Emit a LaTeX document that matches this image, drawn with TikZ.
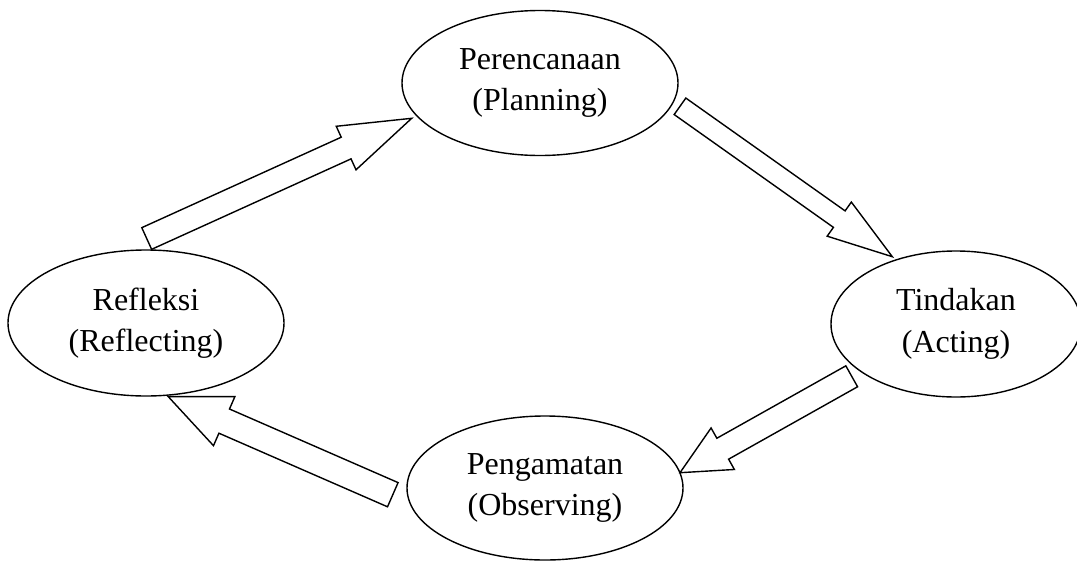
\documentclass[tikz,border=0pt]{standalone}
\usepackage{fontspec}
\setmainfont{Liberation Serif}
\usetikzlibrary{shapes.geometric,calc}
\tikzset{
  bw/.store in=\bw, hw/.store in=\hw, hl/.store in=\hl,
  bw=12pt, hw=24pt, hl=60pt,
  stage/.style={draw, ellipse, line width=1.4pt, inner sep=0pt,
    minimum width=276pt, minimum height=145pt, align=center,
    font=\fontsize{32}{41.5}\selectfont},
  blockarrow/.style={draw, line width=1.4pt, fill=white, miter limit=20,
    to path={
      ($(\tikztostart)!\bw!90:(\tikztotarget)$)
      -- ($(\tikztotarget)!\hl!(\tikztostart)!\bw!90:(\tikztotarget)$)
      -- ($(\tikztotarget)!\hl!(\tikztostart)!\hw!90:(\tikztotarget)$)
      -- (\tikztotarget)
      -- ($(\tikztotarget)!\hl!(\tikztostart)!\hw!-90:(\tikztotarget)$)
      -- ($(\tikztotarget)!\hl!(\tikztostart)!\bw!-90:(\tikztotarget)$)
      -- ($(\tikztostart)!\bw!-90:(\tikztotarget)$)
      -- cycle}}
}
\begin{document}
\begin{tikzpicture}[x=1pt,y=-1pt]
\useasboundingbox (0,0) rectangle (1077,560);
\node[stage] (plan) at (540,83) {Perencanaan\\(Planning)};
\node[stage, minimum height=146pt] (refl) at (146,323) {Refleksi\\(Reflecting)};
\node[stage, minimum width=250pt, minimum height=146pt] (act) at (956,324) {Tindakan\\(Acting)};
\node[stage, minimum height=144pt] (obs) at (545,488) {Pengamatan\\(Observing)};
\coordinate (a1s) at (146.7,238.5);
\coordinate (a1e) at (411.7,118.3);
\coordinate (a2s) at (680,106.3);
\coordinate (a2e) at (892.3,256.7);
\coordinate (a3s) at (851.7,376.3);
\coordinate (a3e) at (680,472.7);
\coordinate (a4s) at (392.8,494.7);
\coordinate (a4e) at (168.3,396.7);
\draw[blockarrow, bw=11.9pt, hw=23.9pt, hl=72pt] (a1s) to (a1e);
\draw[blockarrow, bw=10.1pt, hw=20.9pt, hl=65pt] (a2s) to (a2e);
\draw[blockarrow, bw=12pt, hw=23.8pt, hl=49pt] (a3s) to (a3e);
\draw[blockarrow, bw=13.2pt, hw=26.8pt, hl=61pt] (a4s) to (a4e);
\end{tikzpicture}
\end{document}
